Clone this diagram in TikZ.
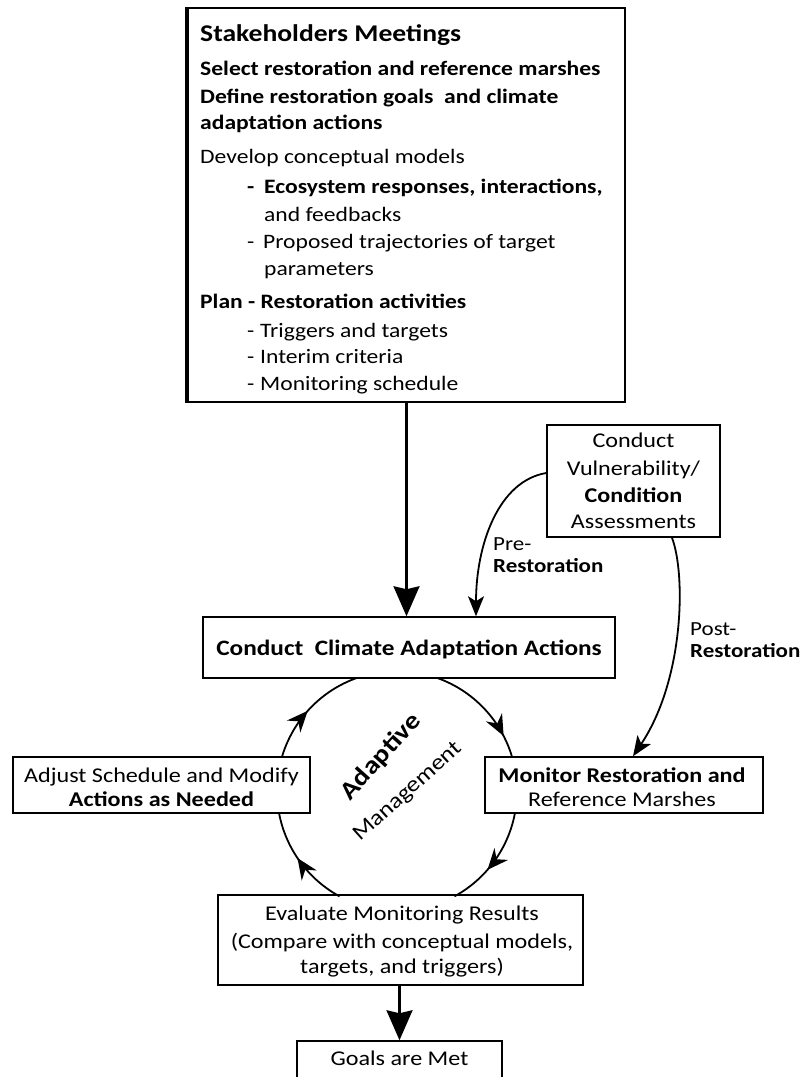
\documentclass[tikz,border=0pt]{standalone}
\usepackage{fontspec}
\setmainfont{Carlito}[FakeStretch=1.15]
\usetikzlibrary{arrows.meta,decorations.markings,calc}
\newcommand{\myfs}[1]{\fontsize{#1}{#1}\selectfont}
\begin{document}
\begin{tikzpicture}[x=1pt,y=-1pt,
  box/.style={draw,line width=1.5pt,fill=white,inner sep=0pt},
  ltxt/.style={inner sep=0pt,anchor=base west,font=\myfs{20.5}},
  ctxt/.style={inner sep=0pt,anchor=base,font=\myfs{21}},
  bigarrow/.style={line width=2.4pt,-{Stealth[length=30pt,width=26pt,inset=3pt]}},
  curarrow/.style={line width=1.8pt,-{Stealth[length=20pt,width=16pt,inset=5pt]}},
  cyc/.style={line width=1.8pt,postaction={decorate}},
  cycmark/.style={decoration={markings,mark=at position #1 with {\arrow{Stealth[length=21pt,width=18pt,inset=7pt]}}}},
]
\useasboundingbox (0,0) rectangle (807,1077);
\fill[white] (0,0) rectangle (807,1077);

% top box
\node[box,line width=2pt,minimum width=437pt,minimum height=394pt] (top) at (406.5,205) {};
\draw[line width=3.2pt] (top.north west) -- (top.south west);
\node[ltxt,font=\myfs{24}\bfseries] (t1) at (200,41) {Stakeholders Meetings};
\node[ltxt,font=\myfs{20.5}\bfseries] (t2) at (200,75) {Select restoration and reference marshes};
\node[ltxt,font=\myfs{20.5}\bfseries] (t3) at (200,103) {Define restoration goals\ \ and climate};
\node[ltxt,font=\myfs{20.5}\bfseries] (t4) at (200,129) {adaptation actions};
\node[ltxt] (t5) at (200,163) {Develop conceptual models};
\node[ltxt,font=\myfs{20.5}\bfseries] (t6) at (247,193) {\makebox[17pt][l]{-}Ecosystem responses, interactions,};
\node[ltxt] (t7) at (264,221) {and feedbacks};
\node[ltxt] (t8) at (247,248) {\makebox[16pt][l]{-}Proposed trajectories of target};
\node[ltxt] (t9) at (264,275) {parameters};
\node[ltxt,font=\myfs{20.5}\bfseries] (t10) at (200,308) {Plan - Restoration activities};
\node[ltxt] (t11) at (247,337) {\makebox[13pt][l]{-}Triggers and targets};
\node[ltxt] (t12) at (247,363) {\makebox[13pt][l]{-}Interim criteria};
\node[ltxt] (t13) at (247,390) {\makebox[13pt][l]{-}Monitoring schedule};

% other boxes
\node[box,minimum width=412pt,minimum height=61pt] (conduct) at (409,647.5) {};
\node[ctxt,font=\myfs{22}\bfseries] (conductT) at (409,655) {Conduct\ \ Climate Adaptation Actions};

\node[box,minimum width=173pt,minimum height=112pt] (vuln) at (633.5,481) {};
\node[ctxt] (v1) at (633.5,447) {Conduct};
\node[ctxt] (v2) at (633.5,475) {Vulnerability/};
\node[ctxt,font=\myfs{21}\bfseries] (v3) at (633.5,502) {Condition};
\node[ctxt] (v4) at (633.5,528) {Assessments};

\node[box,minimum width=297pt,minimum height=56pt] (adjust) at (161.5,785) {};
\node[ctxt] (a1) at (161.5,782) {Adjust Schedule and Modify};
\node[ctxt,font=\myfs{21}\bfseries] (a2) at (161.5,806) {Actions as Needed};

\node[box,minimum width=278pt,minimum height=56pt] (monitor) at (624,785) {};
\node[ctxt,font=\myfs{21}\bfseries] (m1) at (622,782) {Monitor Restoration and};
\node[ctxt] (m2) at (622,806) {Reference Marshes};

\node[box,minimum width=365pt,minimum height=90pt] (eval) at (400.5,940) {};
\node[ctxt] (e1) at (402,920) {Evaluate Monitoring Results};
\node[ctxt] (e2) at (402,948) {(Compare with conceptual models,};
\node[ctxt] (e3) at (402,973) {targets, and triggers)};

\node[box,minimum width=205pt,minimum height=38pt] (goals) at (399.5,1060) {};
\node[ctxt] (g1) at (399.5,1065) {Goals are Met};

% main arrows
\draw[bigarrow] (top.south) -- (top.south |- conduct.north);
\draw[bigarrow] (eval.south -| goals.north) -- (goals.north);

% pre / post restoration
\draw[curarrow] ($(vuln.west)+(0,-8)$) .. controls ($(vuln.west)+(-48,0)$) and (476,545) .. ($(conduct.north)+(67,0)$);
\node[ltxt,font=\myfs{20}] (pre1) at (493,550) {Pre-};
\node[ltxt,font=\myfs{20}\bfseries] (pre2) at (493,572) {Restoration};
\draw[curarrow] ($(vuln.south)+(38.5,0)$) .. controls (686,575) and (684,680) .. ($(monitor.north)+(9,0)$);
\node[ltxt,font=\myfs{20}] (post1) at (690,635) {Post-};
\node[ltxt,font=\myfs{20}\bfseries] (post2) at (690,657) {Restoration};

% adaptive management cycle
\coordinate (cc) at (397,791);
\draw[cyc,cycmark=0.47] ($(cc)+(-163.5:120)$) arc[start angle=-163.5,end angle=-109.5,radius=120];
\draw[cyc,cycmark=0.8] ($(cc)+(-70.5:120)$) arc[start angle=-70.5,end angle=-16.5,radius=120];
\draw[cyc,cycmark=0.6] ($(cc)+(10.6:120)$) arc[start angle=10.6,end angle=61.4,radius=120];
\draw[cyc,cycmark=0.54] ($(cc)+(118.6:120)$) arc[start angle=118.6,end angle=169.4,radius=120];
\node[inner sep=0pt,rotate=48,font=\myfs{25}\bfseries] (adapt) at (381,757) {Adaptive};
\node[inner sep=0pt,rotate=42,font=\myfs{22}] (mgmt) at (408,792) {Management};
\end{tikzpicture}
\end{document}
